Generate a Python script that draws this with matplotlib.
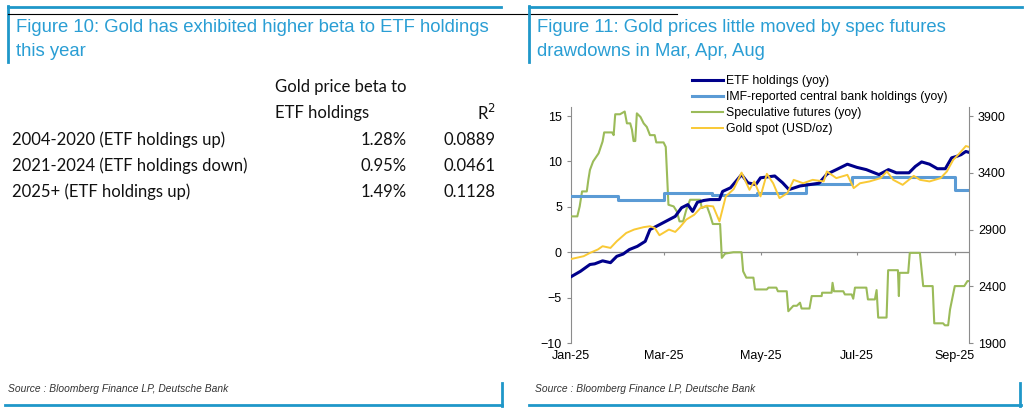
import numpy as np
import pandas as pd
import matplotlib
matplotlib.use("Agg")
import matplotlib.pyplot as plt
import matplotlib.dates as mdates
from matplotlib.lines import Line2D

W, H = 1033, 415

# ---- data: left table
row_labels = ["2004-2020 (ETF holdings up)", "2021-2024 (ETF holdings down)", "2025+ (ETF holdings up)"]
beta_vals = ["1.28%", "0.95%", "1.49%"]
r2_vals = ["0.0889", "0.0461", "0.1128"]

# ---- data: right chart (days since 1 Jan 2025)
etf_days = [0, 6, 12, 15, 20, 25, 29, 33, 37, 42, 47, 50, 54, 60, 66, 70, 74, 77, 80, 84, 88,
            94, 96, 101, 108, 112, 117, 120, 129, 134, 138, 145, 151, 157, 162, 168, 175, 181,
            187, 195, 201, 206, 214, 218, 222, 227, 232, 237, 241, 244, 247, 250, 252]
etf_yoy = [-2.7, -2.1, -1.35, -1.28, -0.95, -1.15, -0.45, -0.2, 0.3, 0.65, 1.2, 2.5, 2.85, 3.4,
           3.95, 4.9, 5.25, 4.5, 5.5, 5.7, 5.8, 5.8, 6.7, 7.1, 8.55, 7.65, 7.45, 8.2, 8.4, 7.65,
           6.9, 7.3, 7.45, 7.6, 8.6, 9.1, 9.7, 9.35, 9.1, 8.55, 9.1, 8.75, 8.75, 9.45, 9.95, 9.7,
           9.2, 9.2, 10.4, 10.55, 10.75, 11.1, 11.0]

cb_days = [0, 30, 59, 89, 118, 149, 178, 243, 252]
cb_yoy = [6.2, 5.7, 6.55, 6.35, 6.5, 7.55, 8.25, 6.9, 6.9]

spec_days = [0, 4, 5.5, 7, 10, 11, 12, 14, 17.5, 20, 21, 26, 27, 28, 31, 34, 35.4, 37.5, 38.6,
             39.6, 40.7, 41.7, 44, 46, 48, 50, 53, 54, 58.6, 60, 61.7, 65, 67, 68.7, 71, 73,
             75.4, 81.8, 82.8, 86, 88, 89.8, 94.4, 95.5, 97.6, 102.8, 108, 109, 111, 115.5,
             116.5, 124, 125, 130, 131, 136.6, 137.6, 140.8, 143, 145, 146, 151, 152.4, 158.7,
             159, 165, 165.6, 166.5, 172.4, 173.4, 177.7, 178.7, 179.8, 187, 188, 192.4, 193.5,
             194.5, 199.8, 200.8, 207, 207.6, 208, 213.5, 214.5, 220.9, 223, 229, 230, 235.6,
             236.7, 238.8, 240, 243, 249, 251, 252]
spec_yoy = [3.95, 3.95, 5.05, 6.7, 6.7, 8.0, 9.07, 10.0, 10.9, 12.2, 13.2, 13.2, 12.9, 15.2,
            15.2, 15.5, 14.2, 14.2, 13.5, 12.25, 12.25, 15.3, 14.9, 14.2, 13.8, 12.9, 12.9, 12.1,
            12.1, 11.6, 5.23, 5.05, 4.5, 3.4, 3.4, 4.68, 5.78, 5.78, 4.87, 5.1, 4.13, 3.11, 3.11,
            -0.62, -0.15, 0.0, 0.0, -2.1, -2.8, -2.8, -4.1, -4.1, -3.9, -3.9, -4.3, -4.3, -6.5,
            -5.9, -5.9, -5.56, -6.2, -6.2, -4.83, -4.83, -4.46, -4.46, -3.37, -4.3, -4.3, -4.65,
            -4.65, -5.12, -3.9, -3.9, -5.2, -5.2, -4.17, -7.2, -7.2, -1.98, -1.98, -4.83, -2.27,
            -2.27, -0.07, -0.07, -3.73, -3.73, -7.83, -7.83, -8.05, -8.05, -6.3, -3.73, -3.73,
            -3.18, -3.18]

gold_days = [0, 8, 12, 17, 20, 25, 29, 35, 40, 46, 50, 53, 56, 62, 66, 69, 73, 78, 82, 86, 90,
             94, 98, 103, 108, 113, 116, 120, 124, 128, 132, 137, 141, 147, 153, 160, 162, 168,
             175, 179, 183, 189, 196, 200, 204, 210, 217, 221, 227, 234, 238, 242, 246, 250, 252]
gold_spot = [2640, 2665, 2694, 2724, 2753, 2738, 2797, 2870, 2900, 2921, 2929, 2914, 2850, 2900,
             2879, 2921, 2988, 3030, 3090, 3110, 3104, 2972, 3192, 3256, 3402, 3250, 3324, 3192,
             3391, 3308, 3177, 3221, 3338, 3308, 3338, 3324, 3412, 3353, 3382, 3265, 3308, 3324,
             3353, 3412, 3338, 3294, 3373, 3338, 3324, 3353, 3412, 3514, 3572, 3636, 3628]

start = pd.Timestamp("2025-01-01")
def to_dates(days):
    return start + pd.to_timedelta(np.array(days, dtype=float), unit="D")

teal = "#1f97c9"
title_col = "#2a9ed4"

fig = plt.figure(figsize=(W / 100, H / 100), dpi=100)
plt.rcParams["font.family"] = ["Liberation Sans", "DejaVu Sans"]

def fx(x):
    return x / W

def fy(y):
    return 1 - y / H

def hline(x0, x1, y, color=teal, lw=2.0):
    fig.add_artist(Line2D([fx(x0), fx(x1)], [fy(y), fy(y)], color=color, lw=lw))

def vline(x, y0, y1, color=teal, lw=2.0):
    fig.add_artist(Line2D([fx(x), fx(x)], [fy(y0), fy(y1)], color=color, lw=lw))

# frames
hline(8, 501, 7)
vline(8, 6, 62)
hline(8, 677, 14, color="black", lw=0.8)
hline(529, 1022, 7)
vline(529, 6, 62)
hline(5, 502, 405)
vline(502, 383, 406)
hline(529, 1021, 405)
vline(1020, 383, 406)

# titles
tsize = 13.3
fig.text(fx(16), fy(27), "Figure 10: Gold has exhibited higher beta to ETF holdings",
         color=title_col, fontsize=tsize, va="center", ha="left")
fig.text(fx(16), fy(51), "this year", color=title_col, fontsize=tsize, va="center", ha="left")
fig.text(fx(537), fy(27), "Figure 11: Gold prices little moved by spec futures",
         color=title_col, fontsize=tsize, va="center", ha="left")
fig.text(fx(537), fy(51), "drawdowns in Mar, Apr, Aug", color=title_col, fontsize=tsize,
         va="center", ha="left")

# source lines
for xs in (8, 535):
    fig.text(fx(xs), fy(389), "Source : Bloomberg Finance LP, Deutsche Bank", fontsize=7.4,
             style="italic", color="#333333", va="center", ha="left",
             family=["Liberation Sans Narrow", "Liberation Sans"])

# table
tfont = dict(fontsize=12, color="#111111", va="center", family=["Lato", "DejaVu Sans"])
fig.text(fx(275), fy(87), "Gold price beta to", ha="left", **tfont)
fig.text(fx(275), fy(113), "ETF holdings", ha="left", **tfont)
fig.text(fx(496), fy(113), "R$^2$", ha="right", **tfont)
for i, lab in enumerate(row_labels):
    yy = 140 + i * 25.8
    fig.text(fx(12), fy(yy), lab, ha="left", **tfont)
    fig.text(fx(407), fy(yy), beta_vals[i], ha="right", **tfont)
    fig.text(fx(496), fy(yy), r2_vals[i], ha="right", **tfont)

# chart
ax = fig.add_axes([fx(571), fy(343), fx(969) - fx(571), (343 - 107) / H])
ax2 = ax.twinx()

ax.plot(to_dates(spec_days), spec_yoy, color="#9bbb59", lw=1.5, zorder=3)
ax.step(to_dates(cb_days), cb_yoy, where="post", color="#5b9bd5", lw=2.2, zorder=4)
ax.plot(to_dates(etf_days), etf_yoy, color="#00008b", lw=2.2, zorder=5)
ax2.plot(to_dates(gold_days), gold_spot, color="#f9c935", lw=1.4, zorder=6)

ax.set_ylim(-10, 16)
ax2.set_ylim(1900, 3980)
ax.set_xlim(to_dates([0])[0], to_dates([252])[0])
ax.set_yticks([-10, -5, 0, 5, 10, 15])
ax2.set_yticks([1900, 2400, 2900, 3400, 3900])

grey = "#8c8c8c"
for a in (ax, ax2):
    a.spines["top"].set_visible(False)
    a.spines["bottom"].set_visible(False)
    a.spines["left"].set_color(grey)
    a.spines["right"].set_color(grey)
    a.tick_params(axis="y", colors=grey, labelcolor="black", labelsize=9, length=3, width=0.8)
ax2.spines["left"].set_visible(False)
ax.spines["right"].set_visible(False)

xt = pd.to_datetime(["2025-01-01", "2025-03-01", "2025-05-01", "2025-07-01", "2025-09-01"])
ax.set_xticks(xt)
ax.xaxis.set_major_formatter(mdates.DateFormatter("%b-%y"))
ax.tick_params(axis="x", length=0, labelsize=9, pad=5)
ax.axhline(0, color=grey, lw=0.9, zorder=2)
ax.vlines(xt, -0.35, 0, color=grey, lw=0.8, zorder=2)

# legend
handles = [Line2D([], [], color="#00008b", lw=2.2),
           Line2D([], [], color="#5b9bd5", lw=2.2),
           Line2D([], [], color="#9bbb59", lw=1.5),
           Line2D([], [], color="#f9c935", lw=1.4)]
labels = ["ETF holdings (yoy)", "IMF-reported central bank holdings (yoy)",
          "Speculative futures (yoy)", "Gold spot (USD/oz)"]
leg = fig.legend(handles, labels, loc="upper left", bbox_to_anchor=(fx(692), fy(75)),
                 frameon=False, fontsize=8.8, handlelength=2.5, handletextpad=0.3,
                 labelspacing=0.33, borderaxespad=0, borderpad=0)

fig.savefig("out.png", dpi=100)
